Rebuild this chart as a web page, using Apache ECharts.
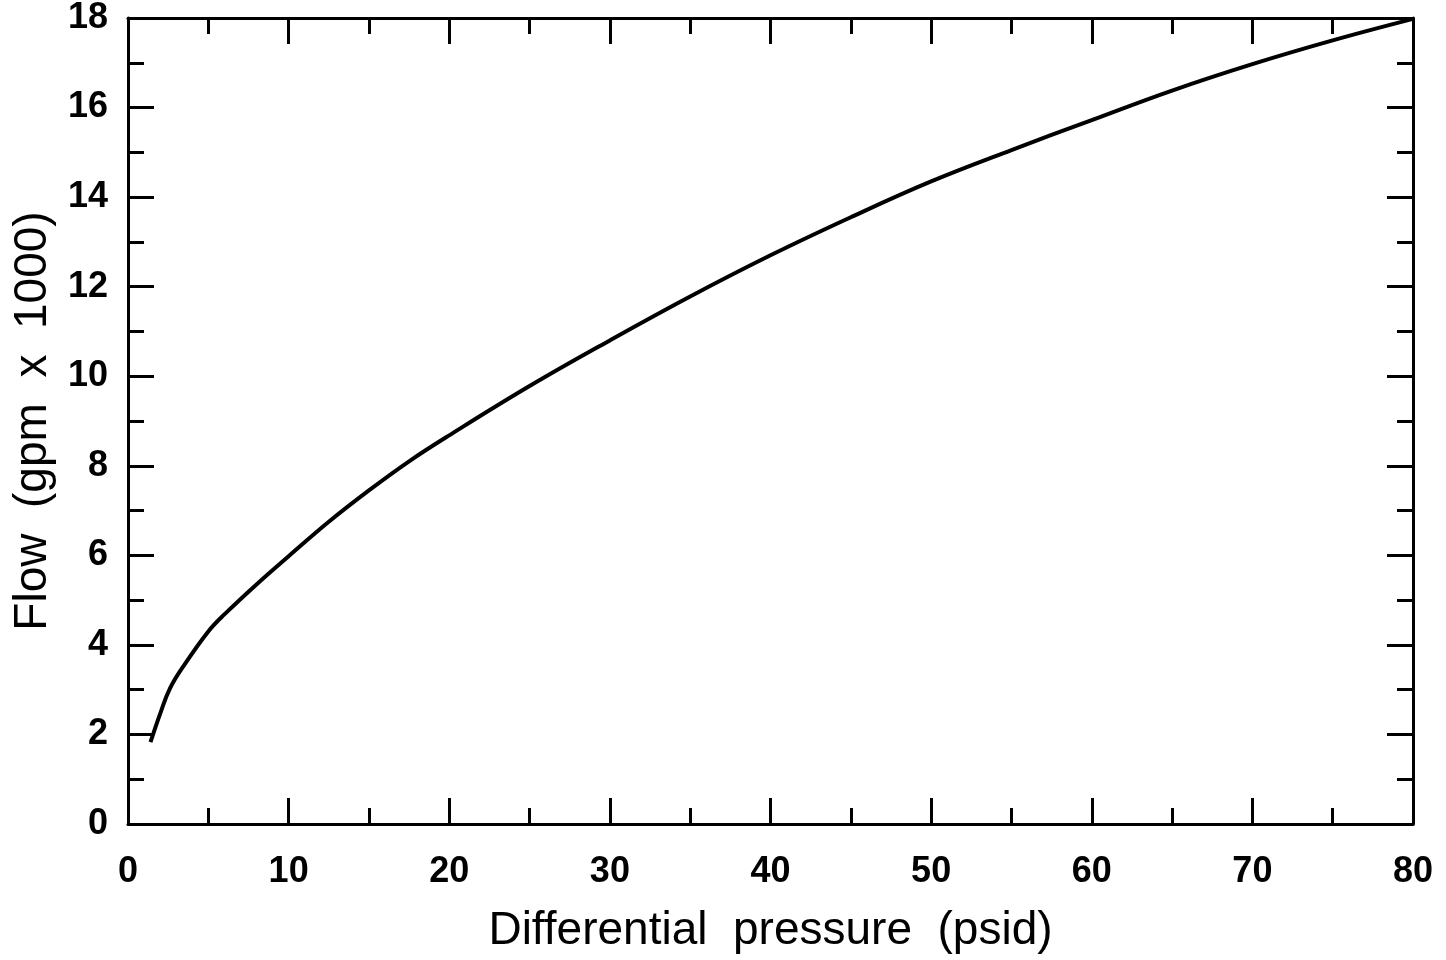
<!DOCTYPE html>
<html>
<head>
<meta charset="utf-8">
<script src="https://cdn.jsdelivr.net/npm/echarts@6/dist/echarts.min.js"></script>
<style>
  html, body { margin: 0; padding: 0; background: #fff; }
  #chart { width: 1446px; height: 960px; }
</style>
</head>
<body>
<div id="chart"></div>
<script>
// Differential pressure (psid)
const pressure = [1.4, 1.7, 2.0, 2.6, 3.5, 5, 6, 8, 10, 12.5, 15, 17.5, 20, 25, 30, 35, 40, 45, 50, 55, 60, 65, 70, 75, 80];
// Flow (gpm x 1000)
const flow = [1.83, 2.15, 2.46, 3.02, 3.55, 4.3, 4.68, 5.35, 5.98, 6.75, 7.45, 8.1, 8.68, 9.78, 10.8, 11.78, 12.7, 13.55, 14.35, 15.05, 15.72, 16.38, 16.97, 17.5, 17.98];

const xTitle = 'Differential  pressure  (psid)';
const yTitle = 'Flow  (gpm  x  1000)';

const chart = echarts.init(document.getElementById('chart'));
const lineStyle = { color: '#000', width: 3 };
const labelFont = { color: '#000', fontFamily: 'Liberation Sans', fontWeight: 'bold', fontSize: 36 };
const titleFont = { color: '#000', fontFamily: 'Liberation Sans', fontSize: 46 };

const xBase = {
  type: 'value', min: 0, max: 80, interval: 10,
  axisLine: { show: true, onZero: false, lineStyle: lineStyle },
  axisTick: { show: true, inside: true, length: 26, lineStyle: lineStyle },
  minorTick: { show: true, splitNumber: 2, length: 16, lineStyle: lineStyle },
  splitLine: { show: false }
};
const yBase = {
  type: 'value', min: 0, max: 18, interval: 2,
  axisLine: { show: true, onZero: false, lineStyle: lineStyle },
  axisTick: { show: true, inside: true, length: 26, lineStyle: lineStyle },
  minorTick: { show: true, splitNumber: 2, length: 16, lineStyle: lineStyle },
  splitLine: { show: false }
};

chart.setOption({
  backgroundColor: '#fff',
  animation: false,
  grid: { left: 128, right: 33, top: 16, bottom: 136 },
  xAxis: [
    Object.assign({}, xBase, {
      position: 'bottom',
      name: xTitle, nameLocation: 'middle', nameGap: 84,
      nameTextStyle: titleFont,
      axisLabel: Object.assign({ margin: 30 }, labelFont)
    }),
    Object.assign({}, xBase, { position: 'top', axisLabel: { show: false } })
  ],
  yAxis: [
    Object.assign({}, yBase, {
      position: 'left',
      name: yTitle, nameLocation: 'middle', nameGap: 72,
      nameTextStyle: titleFont,
      axisLabel: Object.assign({ margin: 20 }, labelFont)
    }),
    Object.assign({}, yBase, { position: 'right', axisLabel: { show: false } })
  ],
  series: [{
    type: 'line',
    data: pressure.map((p, i) => [p, flow[i]]),
    smooth: 0.4,
    showSymbol: false,
    lineStyle: { color: '#000', width: 4 }
  }]
});
</script>
</body>
</html>
